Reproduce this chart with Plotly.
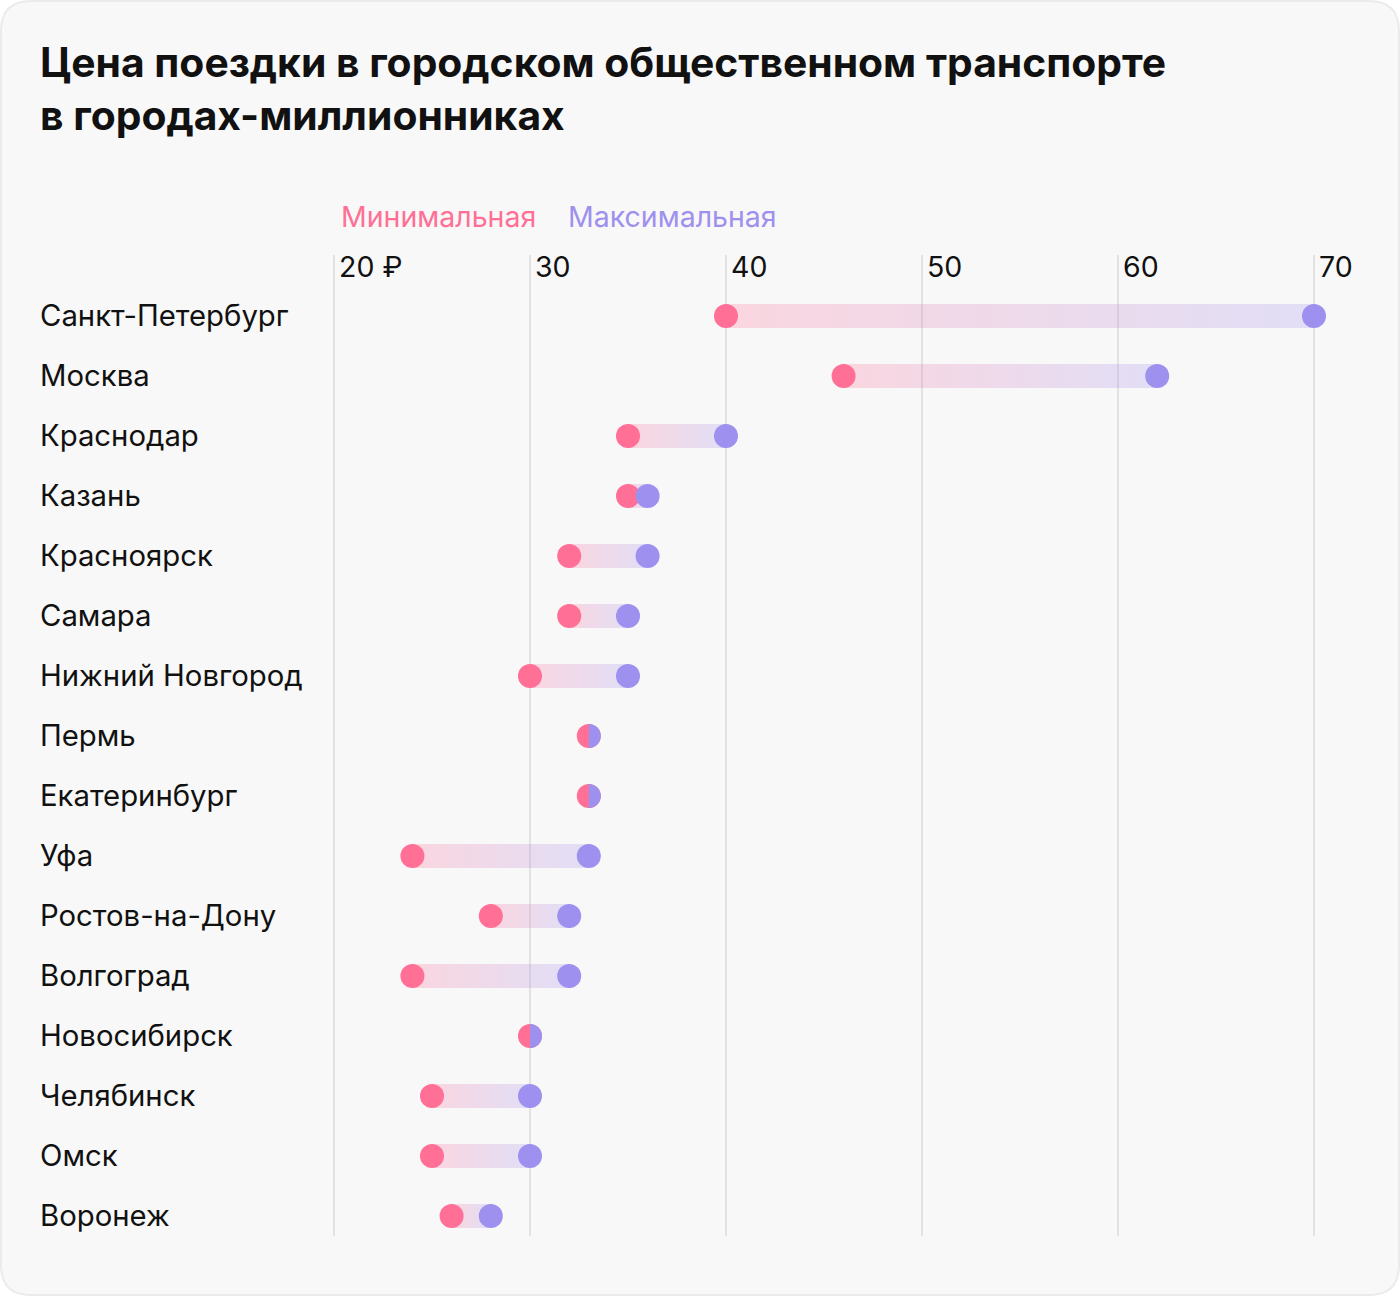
import plotly.graph_objects as go

# ---------------- data ----------------
cities = ['Санкт-Петербург', 'Москва', 'Краснодар', 'Казань', 'Красноярск', 'Самара',
          'Нижний Новгород', 'Пермь', 'Екатеринбург', 'Уфа', 'Ростов-на-Дону',
          'Волгоград', 'Новосибирск', 'Челябинск', 'Омск', 'Воронеж']
min_price = [40, 46, 35, 35, 32, 32, 30, 33, 33, 24, 28, 24, 30, 25, 25, 26]
max_price = [70, 62, 40, 36, 36, 35, 35, 33, 33, 33, 32, 32, 30, 30, 30, 28]
tick_vals = [20, 30, 40, 50, 60, 70]
tick_text = ['20 ₽', '30', '40', '50', '60', '70']
title_text = 'Цена поездки в городском общественном транспорте<br>в городах-миллионниках'
legend_names = ['Минимальная', 'Максимальная']

# ---------------- styles ----------------
W, H = 1400, 1296
ML, MR, MT, MB = 314, 47, 255, 60
PX_PER_UNIT = 19.6
ROW_PX = 60
PINK = '#ff6f96'
PURPLE = '#9e90ef'
FONT = 'Inter, Roboto, sans-serif'
LABEL_SIZE = 28.5
CITY_SIZE = 29.3

pw = W - ML - MR
ph = H - MT - MB
x0 = 20 - (334 - ML) / PX_PER_UNIT
x1 = x0 + pw / PX_PER_UNIT
y_top = -(316 - MT) / ROW_PX
y_bot = y_top + ph / ROW_PX

fig = go.Figure()

half_h = 12 / ROW_PX
ys = list(range(len(cities)))

# gradient bars
for i, (mn, mx) in enumerate(zip(min_price, max_price)):
    if mx <= mn:
        continue
    fig.add_trace(go.Scatter(
        x=[mn, mx, mx, mn, mn],
        y=[i - half_h, i - half_h, i + half_h, i + half_h, i - half_h],
        mode='none', fill='toself',
        fillgradient=dict(type='horizontal',
                          colorscale=[[0, 'rgba(255,111,150,0.25)'],
                                      [1, 'rgba(158,144,239,0.25)']]),
        hoverinfo='skip', showlegend=False))

# min markers
fig.add_trace(go.Scatter(
    x=min_price, y=ys, mode='markers',
    marker=dict(color=PINK, size=24, line=dict(width=0)),
    cliponaxis=False, showlegend=False, name=legend_names[0]))

# max markers (only where different)
mx_x = [mx for mn, mx in zip(min_price, max_price) if mx != mn]
mx_y = [i for i, (mn, mx) in enumerate(zip(min_price, max_price)) if mx != mn]
fig.add_trace(go.Scatter(
    x=mx_x, y=mx_y, mode='markers',
    marker=dict(color=PURPLE, size=24, line=dict(width=0)),
    cliponaxis=False, showlegend=False, name=legend_names[1]))

shapes = []
# half purple circles where min == max
r = 12
k = 0.5523 * r
half_path = (f'M0,{r} C{k},{r} {r},{k} {r},0 C{r},{-k} {k},{-r} 0,{-r} Z')
for i, (mn, mx) in enumerate(zip(min_price, max_price)):
    if mx == mn:
        shapes.append(dict(type='path', xref='x', yref='y',
                           xsizemode='pixel', ysizemode='pixel',
                           xanchor=mx, yanchor=i, path=half_path,
                           fillcolor=PURPLE, line=dict(width=0), layer='above'))

# card background with rounded corners (paper coords)
def px_to_paper_x(px):
    return (px - ML) / pw

def px_to_paper_y(py):
    return (H - MB - py) / ph

rad = 30
L, R, T, B = 1, W - 1, 1, H - 1
path = (f'M{px_to_paper_x(L + rad)},{px_to_paper_y(T)} '
        f'L{px_to_paper_x(R - rad)},{px_to_paper_y(T)} '
        f'Q{px_to_paper_x(R)},{px_to_paper_y(T)} {px_to_paper_x(R)},{px_to_paper_y(T + rad)} '
        f'L{px_to_paper_x(R)},{px_to_paper_y(B - rad)} '
        f'Q{px_to_paper_x(R)},{px_to_paper_y(B)} {px_to_paper_x(R - rad)},{px_to_paper_y(B)} '
        f'L{px_to_paper_x(L + rad)},{px_to_paper_y(B)} '
        f'Q{px_to_paper_x(L)},{px_to_paper_y(B)} {px_to_paper_x(L)},{px_to_paper_y(B - rad)} '
        f'L{px_to_paper_x(L)},{px_to_paper_y(T + rad)} '
        f'Q{px_to_paper_x(L)},{px_to_paper_y(T)} {px_to_paper_x(L + rad)},{px_to_paper_y(T)} Z')
shapes.insert(0, dict(type='path', xref='paper', yref='paper', path=path,
                      fillcolor='#f8f8f8', line=dict(color='#ebebeb', width=2),
                      layer='below'))

annotations = []
# title
annotations.append(dict(text='<b>' + title_text + '</b>', x=px_to_paper_x(38), xref='paper',
                        y=px_to_paper_y(88), yref='paper', xanchor='left', yanchor='middle',
                        align='left', showarrow=False,
                        font=dict(family=FONT, size=40.8, color='#111111')))
# city labels
for i, c in enumerate(cities):
    annotations.append(dict(text=c, x=px_to_paper_x(38), xref='paper', y=i, yref='y',
                            xanchor='left', yanchor='middle', showarrow=False, yshift=1,
                            font=dict(family=FONT, size=CITY_SIZE, color='#111111')))
# legend labels
for name, col, px in zip(legend_names, [PINK, PURPLE], [339, 566]):
    annotations.append(dict(text=name, x=px_to_paper_x(px), xref='paper',
                            y=px_to_paper_y(216), yref='paper',
                            xanchor='left', yanchor='middle', showarrow=False,
                            font=dict(family=FONT, size=LABEL_SIZE, color=col)))

fig.update_layout(
    width=W, height=H,
    margin=dict(l=ML, r=MR, t=MT, b=MB),
    paper_bgcolor='white', plot_bgcolor='rgba(0,0,0,0)',
    xaxis=dict(range=[x0, x1], side='top', tickvals=tick_vals, ticktext=tick_text,
               ticklabelposition='inside right', ticklabelshift=5, ticklabelstandoff=-4,
               showgrid=True, gridcolor='#e2e2e2',
               gridwidth=2, zeroline=False, showline=False, ticks='',
               tickfont=dict(family=FONT, size=LABEL_SIZE, color='#111111'), fixedrange=True),
    yaxis=dict(range=[y_bot, y_top], showticklabels=False, showgrid=False,
               zeroline=False, showline=False, ticks='', fixedrange=True),
    shapes=shapes, annotations=annotations,
)

fig.write_html('out.html')
